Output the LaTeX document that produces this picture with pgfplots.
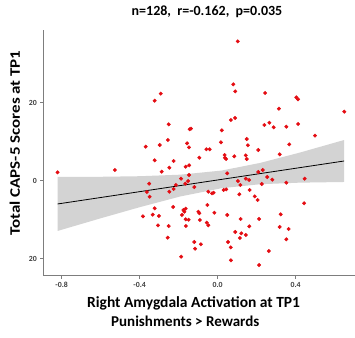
\documentclass[border=0pt]{standalone}
\usepackage{pgfplots}
\pgfplotsset{compat=1.18}
\usepackage{fontspec}
\setmainfont{Carlito}
\definecolor{ptred}{RGB}{228,12,18}
\definecolor{bandgray}{RGB}{211,211,211}
\definecolor{axgray}{RGB}{125,125,125}
\definecolor{tickgray}{RGB}{60,60,60}
\begin{document}
\begin{tikzpicture}
\path[use as bounding box] (-43.3pt,-61.3pt) rectangle (311.7pt,275.7pt);
\begin{axis}[
  at={(0pt,0pt)}, anchor=south west,
  scale only axis, width=311.7pt, height=245.7pt,
  xmin=-0.894, xmax=0.704, ymin=-24.36, ymax=38.64,
  axis x line*=bottom, axis y line*=left,
  axis line style={axgray, line width=0.8pt, -},
  tick style={axgray, line width=0.6pt},
  tick align=outside, major tick length=3pt,
  xtick={-0.8,-0.4,0,0.4}, xticklabels={-0.8,-0.4,0.0,0.4},
  ytick={-20,0,20}, yticklabels={20,0,20},
  ticklabel style={font=\fontsize{7.8}{8}\selectfont\bfseries, text=tickgray},
  /pgf/number format/assume math mode=true,
  clip=false,
]
% confidence band
\addplot[fill=bandgray, draw=none] coordinates {
 (-0.821,0.95) (-0.604,1.00) (-0.398,1.15) (-0.193,1.54) (0.020,2.60) (0.217,4.55) (0.422,7.22) (0.648,10.43)
 (0.648,-0.33) (0.422,-0.50) (0.217,-0.91) (0.020,-1.92) (-0.193,-4.06) (-0.398,-6.77) (-0.604,-9.70) (-0.821,-12.89)
} -- cycle;
% regression line
\addplot[black, line width=0.8pt] coordinates {(-0.821,-5.97) (0.648,5.05)};
% points
\addplot[only marks, mark=*, mark size=1.75pt, mark options={fill=ptred, draw=ptred}] table {
x y
-0.292 22.31
-0.323 20.51
-0.251 14.46
-0.144 13.18
-0.137 13.33
-0.255 10.44
-0.369 8.72
-0.297 9.15
-0.157 9.59
-0.147 8.56
0.103 35.74
0.080 24.72
0.090 22.92
0.243 22.49
0.403 21.38
0.412 20.87
0.314 18.46
0.649 17.69
0.068 15.56
0.089 16.08
0.021 12.92
0.239 14.28
0.265 14.87
0.287 13.69
0.352 13.85
0.412 14.54
0.499 11.54
0.017 9.85
0.149 10.69
0.155 9.08
0.367 9.33
0.208 7.87
-0.058 8.05
-0.041 8.05
0.036 6.59
0.037 5.90
0.043 5.56
0.085 6.26
0.144 6.51
0.149 5.56
0.318 6.77
-0.094 5.90
-0.323 5.23
-0.226 5.05
-0.248 3.33
-0.287 2.31
-0.164 3.59
-0.146 3.95
-0.527 2.74
-0.821 2.15
-0.351 -0.77
-0.188 0.51
-0.147 1.46
-0.152 -0.08
-0.214 -1.10
-0.166 -0.77
-0.363 -2.90
-0.349 -4.10
-0.248 -2.82
-0.226 -2.13
-0.120 -1.62
-0.323 -7.08
-0.383 -9.13
-0.333 -8.72
-0.301 -9.05
-0.228 -6.74
-0.176 -7.51
-0.164 -7.18
-0.171 -7.95
-0.183 -8.79
-0.164 -9.90
-0.149 -10.00
-0.099 -7.95
-0.094 -8.36
-0.306 -11.44
-0.251 -11.62
-0.163 -11.62
-0.256 -14.62
-0.120 -15.72
-0.116 -17.44
-0.187 -19.49
-0.048 -2.82
-0.021 -3.08
-0.029 -3.23
-0.053 -6.23
-0.017 -8.21
-0.091 -10.08
-0.056 -10.77
-0.048 -11.44
-0.086 -16.31
0.049 1.90
0.208 2.23
0.231 2.74
0.254 0.95
0.280 0.26
0.161 0.18
0.144 0.51
0.104 -0.08
0.352 -0.51
0.446 0.51
0.226 -0.85
0.116 -1.10
0.031 -2.38
0.044 -2.21
0.111 -3.49
0.164 -2.38
0.190 -4.00
0.205 -4.95
0.443 -5.79
0.049 -8.79
0.118 -9.82
0.212 -9.82
0.323 -8.62
0.162 -11.69
0.318 -11.87
0.364 -12.38
0.090 -13.15
0.121 -13.49
0.144 -13.92
0.114 -14.69
0.053 -15.72
0.067 -17.08
0.352 -15.03
0.262 -18.03
0.068 -20.41
0.212 -21.62
};
\end{axis}
\node[font=\fontsize{14}{16}\selectfont\bfseries] at (163.7pt,263.5pt) {n=128,\ \ r=-0.162,\ \ p=0.035};
\node[font=\fontsize{15.5}{17}\selectfont\bfseries] at (150.3pt,-27.5pt) {Right Amygdala Activation at TP1};
\node[font=\fontsize{15}{17}\selectfont\bfseries] at (142pt,-45.5pt) {Punishments > Rewards};
\node[font=\fontsize{14.5}{16}\selectfont\bfseries, rotate=90] at (-28.5pt,132.7pt) {\scalebox{1.17}[1]{Total CAPS-5 Scores at TP1}};
\end{tikzpicture}
\end{document}
